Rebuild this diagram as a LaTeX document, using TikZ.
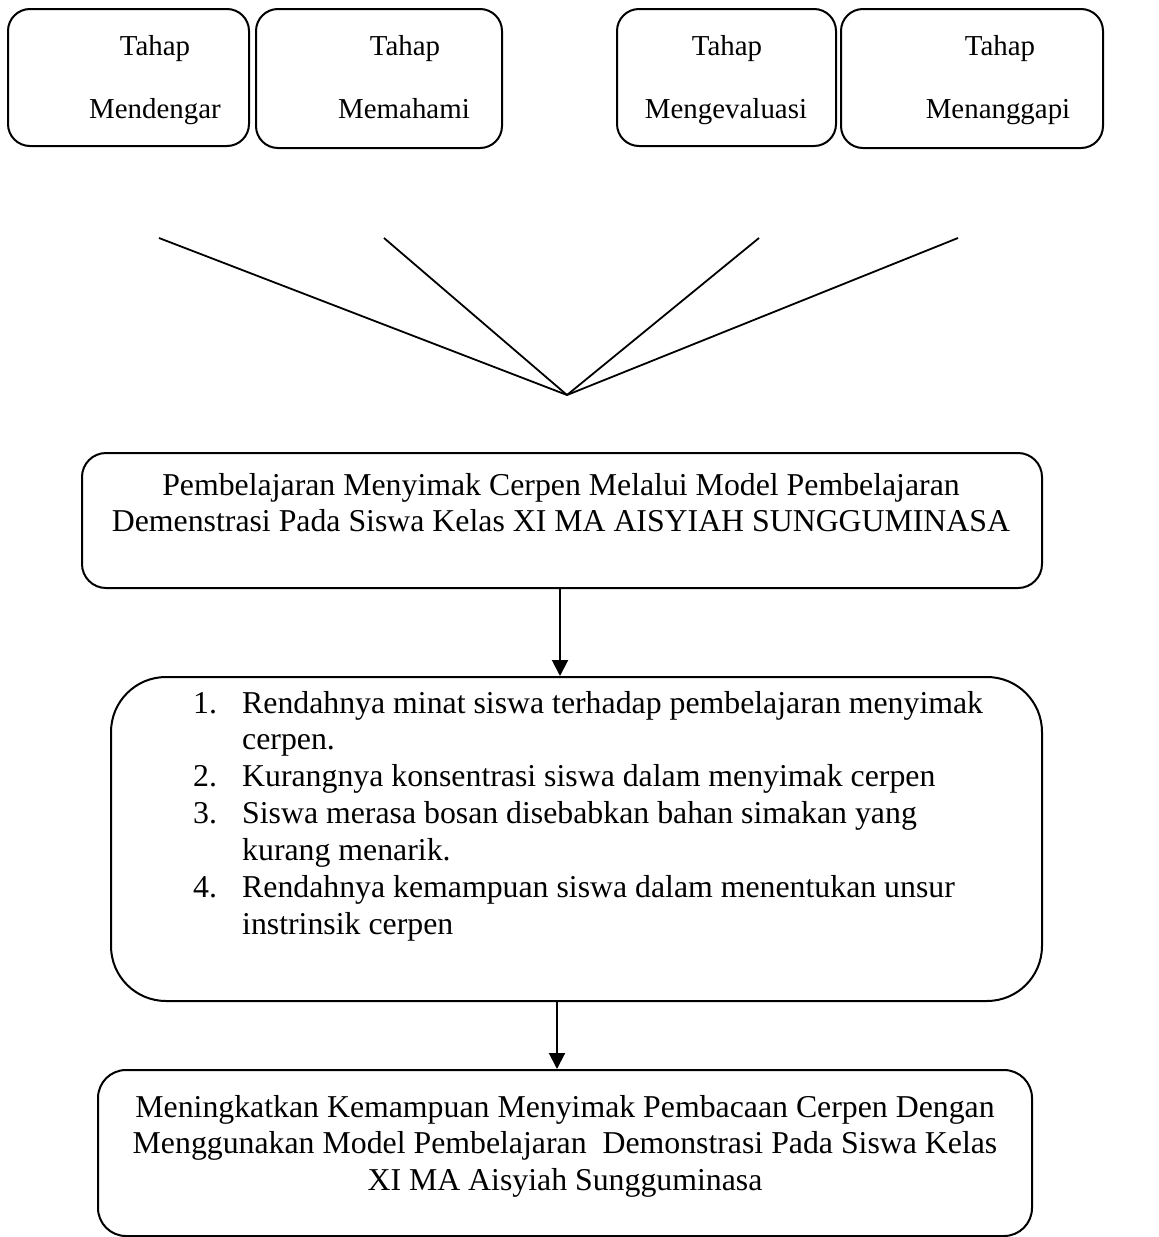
\documentclass[tikz,border=0pt]{standalone}
\usepackage{fontspec}
\setmainfont{Liberation Serif}
\usetikzlibrary{arrows.meta}
\newcommand{\topfont}{\fontsize{28.9}{34}\selectfont}
\newcommand{\mainfont}{\fontsize{31.8}{36.9}\selectfont}
\begin{document}
\begin{tikzpicture}[x=1pt,y=-1pt,
  box/.style={draw, line width=2pt, rounded corners=#1, inner sep=0pt},
  toptxt/.style={anchor=base, inner sep=0pt, font=\topfont},
  maintxt/.style={anchor=base, inner sep=0pt, font=\mainfont},
  conn/.style={line width=1.8pt},
  arr/.style={line width=2pt, -{Triangle[length=16pt,width=16pt]}}]
\useasboundingbox (0,0) rectangle (1159,1237);

% top boxes
\node[box=22, minimum width=241pt, minimum height=137pt] (tb1) at (128.5,77.5) {};
\node[box=22, minimum width=246pt, minimum height=139pt] (tb2) at (379,78.5) {};
\node[box=22, minimum width=219pt, minimum height=137pt] (tb3) at (726.5,77.5) {};
\node[box=22, minimum width=262pt, minimum height=139pt] (tb4) at (972,78.5) {};

\node[toptxt] (t1a) at (155,55) {Tahap};
\node[toptxt] (t1b) at (155,118) {Mendengar};
\node[toptxt] (t2a) at (405,55) {Tahap};
\node[toptxt] (t2b) at (404,118) {Memahami};
\node[toptxt] (t3a) at (727,55) {Tahap};
\node[toptxt] (t3b) at (726,118) {Mengevaluasi};
\node[toptxt] (t4a) at (1000,55) {Tahap};
\node[toptxt] (t4b) at (998,118) {Menanggapi};

% converging lines
\coordinate (l1) at (159,238);
\coordinate (l2) at (384,238);
\coordinate (l3) at (759,238);
\coordinate (l4) at (958,238);
\coordinate (apex) at (567,395);
\draw[conn] (l1) -- (apex);
\draw[conn] (l2) -- (apex);
\draw[conn] (l3) -- (apex);
\draw[conn] (l4) -- (apex);

% middle box
\node[box=24, minimum width=960pt, minimum height=135pt] (pb) at (562,520.5) {};
\node[maintxt] (pbt) at (561,495) {\begin{tabular}[t]{@{}c@{}}Pembelajaran Menyimak Cerpen Melalui Model Pembelajaran\\Demenstrasi Pada Siswa Kelas XI MA AISYIAH SUNGGUMINASA\end{tabular}};

% list box
\node[box=55, minimum width=931pt, minimum height=324pt] (lb) at (576.5,839) {};
\node[anchor=base west, inner sep=0pt, font=\mainfont] (lbt) at (193,713) {\begin{tabular}[t]{@{}p{49pt}@{}l@{}}
1. & Rendahnya minat siswa terhadap pembelajaran menyimak\\
 & cerpen.\\
2. & Kurangnya konsentrasi siswa dalam menyimak cerpen\\
3. & Siswa merasa bosan disebabkan bahan simakan yang\\
 & kurang menarik.\\
4. & Rendahnya kemampuan siswa dalam menentukan unsur\\
 & instrinsik cerpen
\end{tabular}};

% bottom box
\node[box=28, minimum width=934pt, minimum height=166pt] (bb) at (565,1153) {};
\node[maintxt] (bbt) at (565,1117) {\begin{tabular}[t]{@{}c@{}}Meningkatkan Kemampuan Menyimak Pembacaan Cerpen Dengan\\Menggunakan Model Pembelajaran\ \ Demonstrasi Pada Siswa Kelas\\XI MA Aisyiah Sungguminasa\end{tabular}};

% arrows
\coordinate (a1) at (560,0);
\coordinate (a2) at (557,0);
\draw[arr] (pb.south -| a1) -- (lb.north -| a1);
\draw[arr] (lb.south -| a2) -- (bb.north -| a2);
\end{tikzpicture}
\end{document}
